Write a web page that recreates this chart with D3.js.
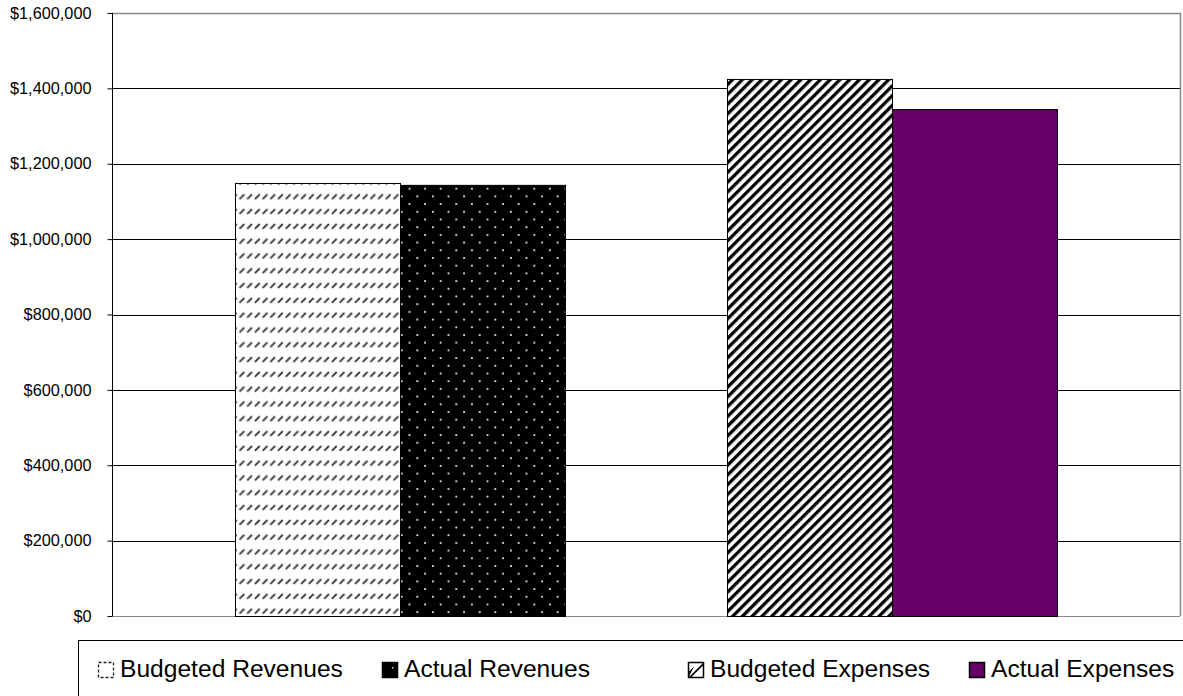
<!DOCTYPE html>
<html><head><meta charset="utf-8">
<script src="https://cdn.jsdelivr.net/npm/d3@7"></script>
<style>body{margin:0;background:#fff}svg{display:block;font-family:"Liberation Sans",Arial,sans-serif}</style>
</head><body><svg id="c" width="1183" height="696"></svg>
<script>
const categories = ["Revenues", "Expenses"];
const seriesNames = ["Budgeted Revenues", "Actual Revenues", "Budgeted Expenses", "Actual Expenses"];
const budgetedValues = [1149000, 1425000];
const actualValues = [1144000, 1345000];
const tickValues = [0, 200000, 400000, 600000, 800000, 1000000, 1200000, 1400000, 1600000];

const svg = d3.select("#c");
const m = {left: 112, right: 1180, top: 13, bottom: 616};

const defs = svg.append("defs");
// Budgeted revenues: dashed upward diagonal
let p = defs.append("pattern").attr("id","pBR").attr("patternUnits","userSpaceOnUse").attr("width",7.7).attr("height",14.8);
p.append("rect").attr("width",7.7).attr("height",14.8).attr("fill","#fff");
p.append("line").attr("x1",0.8).attr("y1",6.8).attr("x2",5.6).attr("y2",2).attr("stroke","#3a3a3a").attr("stroke-width",1.9);
// Actual revenues: black with white dots
p = defs.append("pattern").attr("id","pAR").attr("patternUnits","userSpaceOnUse").attr("width",15.6).attr("height",15.4);
p.append("rect").attr("width",15.6).attr("height",15.4).attr("fill","#000");
p.append("rect").attr("x",3).attr("y",3).attr("width",1.8).attr("height",1.8).attr("fill","#e8e8e8");
p.append("rect").attr("x",10.8).attr("y",10.7).attr("width",1.8).attr("height",1.8).attr("fill","#e8e8e8");
// Budgeted expenses: wide upward diagonal
p = defs.append("pattern").attr("id","pBE").attr("patternUnits","userSpaceOnUse").attr("width",6.9).attr("height",20).attr("patternTransform","rotate(45)");
p.append("rect").attr("width",6.9).attr("height",20).attr("fill","#fff");
p.append("rect").attr("width",3.3).attr("height",20).attr("fill","#000");

const fills = {"Budgeted Revenues":"url(#pBR)","Actual Revenues":"url(#pAR)","Budgeted Expenses":"url(#pBE)","Actual Expenses":"#660066"};
const legendFills = {"Budgeted Revenues":"#fff","Actual Revenues":"#000","Budgeted Expenses":"#fff","Actual Expenses":"#660066"};

const y = d3.scaleLinear().domain([0,1600000]).range([m.bottom, m.top]);
const x0 = d3.scaleBand().domain(categories).range([m.left, m.right]).paddingInner(0.3293).paddingOuter(0.25);
const x1 = d3.scaleBand().domain(["Budgeted","Actual"]).range([0, x0.bandwidth()]);

// gridlines
svg.append("g").selectAll("line").data(tickValues.filter(v=>v>0 && v<1600000)).join("line")
  .attr("x1",m.left).attr("x2",m.right).attr("y1",d=>Math.round(y(d))+0.5).attr("y2",d=>Math.round(y(d))+0.5)
  .attr("stroke","#000").attr("stroke-width",1);
// plot border top/right
svg.append("path").attr("d",`M${m.left},${m.top+0.5}H${m.right+0.5}V${m.bottom}`).attr("fill","none").attr("stroke","#888").attr("stroke-width",1.5);
svg.append("line").attr("x1",m.left).attr("x2",m.right).attr("y1",m.bottom+0.5).attr("y2",m.bottom+0.5).attr("stroke","#888");

// bars
const barData = [];
categories.forEach((c,i)=>{
  const base = i===0 ? 0 : 2;
  barData.push({cat:c, kind:"Budgeted", name:seriesNames[base], v:budgetedValues[i]});
  barData.push({cat:c, kind:"Actual", name:seriesNames[base+1], v:actualValues[i]});
});
svg.append("g").selectAll("rect").data(barData).join("rect")
  .attr("x",d=>x0(d.cat)+x1(d.kind)+0.5).attr("y",d=>y(d.v)+0.5)
  .attr("width",x1.bandwidth()).attr("height",d=>y(0)-y(d.v))
  .attr("fill",d=>fills[d.name]).attr("stroke","#000").attr("stroke-width",1);

// y axis
const ax = svg.append("g").attr("transform",`translate(${m.left+0.5},0)`)
  .call(d3.axisLeft(y).tickValues(tickValues).tickSize(5).tickPadding(16).tickFormat(d=>"$"+d3.format(",")(d)));
ax.select(".domain").attr("d",`M0,${m.top}V${m.bottom}`).attr("stroke","#000");
ax.selectAll("line").attr("stroke","#000");
ax.selectAll("text").attr("font-size",16.3).attr("fill","#000").attr("font-family","Liberation Sans, Arial, sans-serif");

// legend
svg.append("rect").attr("x",78.5).attr("y",640.5).attr("width",1200).attr("height",100).attr("fill","#fff").attr("stroke","#000");
const legX = [98, 382, 688, 969];
const lgd = svg.append("g").selectAll("g").data(seriesNames).join("g").attr("transform",(d,i)=>`translate(${legX[i]},0)`);
lgd.append("rect").attr("x",0.5).attr("y",662.5).attr("width",15).attr("height",15)
  .attr("fill",d=>legendFills[d]).attr("stroke",d=>d==="Budgeted Revenues"?"#222":"#000")
  .attr("stroke-width",d=>d==="Budgeted Revenues"?1.3:1.5)
  .attr("stroke-dasharray",d=>d==="Budgeted Revenues"?"3,2":null);
lgd.filter(d=>d==="Budgeted Expenses").append("path")
  .attr("d","M0.5,677.5L15.5,662.5L15.5,665L3,677.5Z M0.5,677.5L0.5,672L6,666.5Z").attr("fill","#000");
lgd.filter(d=>d==="Actual Revenues").append("rect").attr("x",10).attr("y",667).attr("width",1.5).attr("height",1.5).attr("fill","#ccc");
lgd.append("text").attr("x",22).attr("y",677).attr("font-size",24.6).attr("fill","#000").text(d=>d);
</script></body></html>
